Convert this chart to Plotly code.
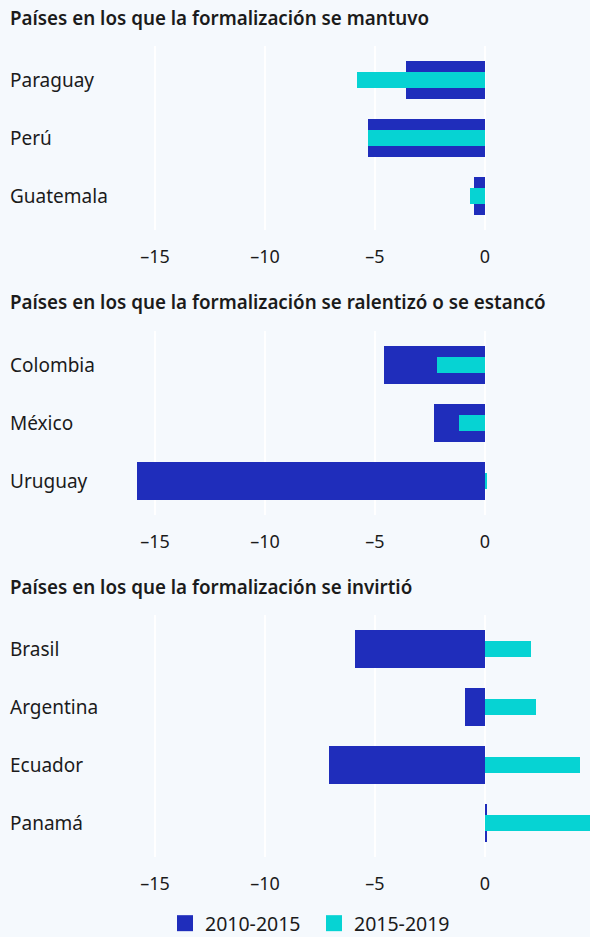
import plotly.graph_objects as go

# ---------------- data ----------------
panel_titles = [
    "Países en los que la formalización se mantuvo",
    "Países en los que la formalización se ralentizó o se estancó",
    "Países en los que la formalización se invirtió",
]
cats1 = ["Paraguay", "Perú", "Guatemala"]
v1_a = [-3.6, -5.3, -0.5]
v1_b = [-5.8, -5.3, -0.7]

cats2 = ["Colombia", "México", "Uruguay"]
v2_a = [-4.6, -2.3, -15.8]
v2_b = [-2.2, -1.2, 0.1]

cats3 = ["Brasil", "Argentina", "Ecuador", "Panamá"]
v3_a = [-5.9, -0.9, -7.1, 0.1]
v3_b = [2.1, 2.3, 4.3, 5.2]

series_names = ["2010-2015", "2015-2019"]
tick_vals = [-15, -10, -5, 0]
tick_text = ["–15", "–10", "–5", "0"]

# ---------------- style ----------------
W, H = 590, 937
BG = "#f5f9fd"
C_A = "#1f2dbb"
C_B = "#06d3d3"
TXT = "#1b1b1b"
FONT = "Noto Sans"

panels = [(cats1, v1_a, v1_b), (cats2, v2_a, v2_b), (cats3, v3_a, v3_b)]
dom_px = [(46, 230), (331, 515), (615, 857)]
title_px = [18, 302, 587]

x0_px, zero_px, ppu = 130, 485, 22.0
xrange = [-(zero_px - x0_px) / ppu, (W - zero_px) / ppu]

fig = go.Figure()
annotations = []
for i, (cats, va, vb) in enumerate(panels):
    n = i + 1
    xa = "x" if n == 1 else f"x{n}"
    ya = "y" if n == 1 else f"y{n}"
    fig.add_trace(go.Bar(y=cats, x=va, orientation="h", width=0.65,
                         marker=dict(color=C_A, line=dict(width=0)),
                         xaxis=xa, yaxis=ya, showlegend=False,
                         name=series_names[0]))
    fig.add_trace(go.Bar(y=cats, x=vb, orientation="h", width=0.27,
                         marker=dict(color=C_B, line=dict(width=0)),
                         xaxis=xa, yaxis=ya, showlegend=False,
                         name=series_names[1]))
    top, bot = dom_px[i]
    pad = 0.58
    layout_x = dict(domain=[x0_px / W, 1], range=xrange, tickvals=tick_vals,
                    ticktext=tick_text, showgrid=True, gridcolor="white",
                    gridwidth=2, zeroline=False, showline=False, ticks="",
                    ticklabelstandoff=14,
                    tickfont=dict(family=FONT, size=18, color=TXT),
                    anchor=ya, fixedrange=True)
    layout_y = dict(domain=[1 - bot / H, 1 - top / H], type="category",
                    categoryorder="array", categoryarray=cats,
                    range=[len(cats) - 1 + pad, -pad], showticklabels=False,
                    showgrid=False, zeroline=False, showline=False, ticks="",
                    anchor=xa, fixedrange=True)
    fig.layout["xaxis" if n == 1 else f"xaxis{n}"] = layout_x
    fig.layout["yaxis" if n == 1 else f"yaxis{n}"] = layout_y
    for c in cats:
        annotations.append(dict(text=c, x=8 / W, xref="paper", xanchor="left",
                                y=c, yref=ya, yanchor="middle", showarrow=False,
                                font=dict(family=FONT, size=19, color=TXT)))
    annotations.append(dict(text=panel_titles[i], x=8 / W, xref="paper",
                            xanchor="left", y=1 - title_px[i] / H, yref="paper",
                            yanchor="middle", showarrow=False,
                            font=dict(family=FONT, size=18.8, color=TXT,
                                      weight=600)))

# legend entries
for name, col in zip(series_names, [C_A, C_B]):
    fig.add_trace(go.Scatter(x=[None], y=[None], mode="markers", name=name,
                             marker=dict(symbol="square", size=19, color=col),
                             xaxis="x3", yaxis="y3", showlegend=True))

fig.update_layout(
    width=W, height=H,
    margin=dict(l=0, r=0, t=0, b=0, autoexpand=False),
    paper_bgcolor=BG, plot_bgcolor=BG, barmode="overlay", bargap=0,
    annotations=annotations,
    legend=dict(orientation="h", x=165 / W, xanchor="left", y=1 - 923.5 / H,
                yanchor="middle", itemsizing="trace", entrywidth=104,
                font=dict(family=FONT, size=19.5, color=TXT),
                bgcolor="rgba(0,0,0,0)"),
    font=dict(family=FONT, color=TXT),
)

fig.write_html("out.html",
               post_script="document.body.style.margin='0';"
                           "document.documentElement.style.overflow='hidden';"
                           "document.body.style.overflow='hidden';",
               config={"displayModeBar": False})
